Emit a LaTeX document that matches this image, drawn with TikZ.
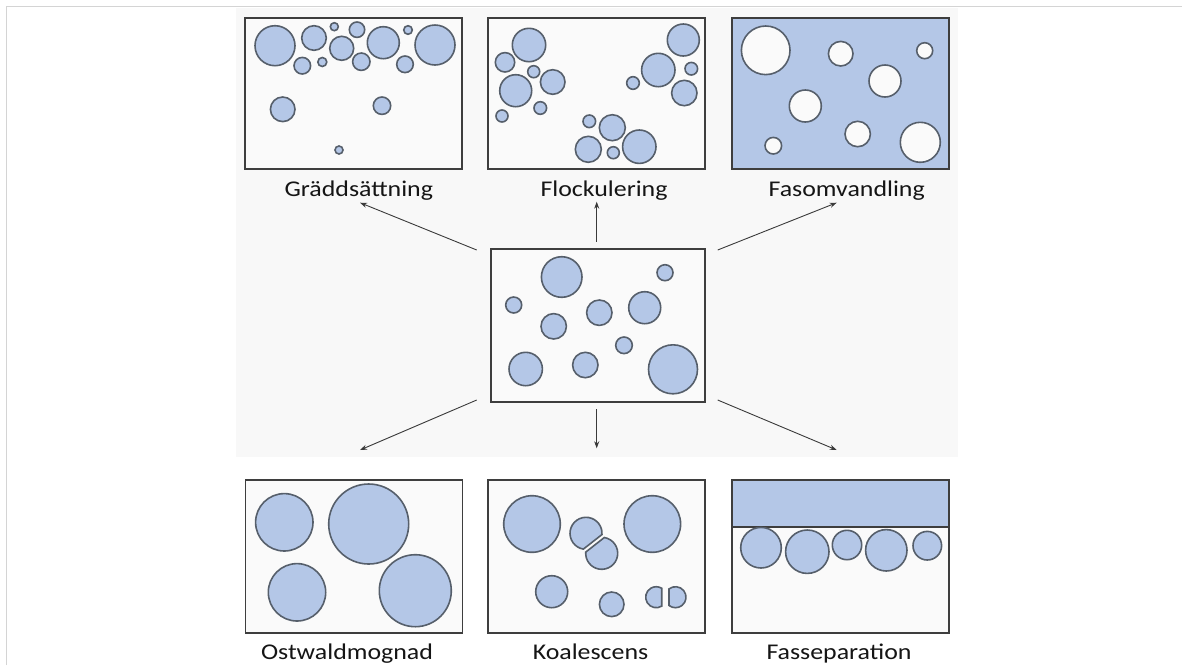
\documentclass[tikz,border=0pt]{standalone}
\usepackage{fontspec}
\usepackage{graphicx}
\setmainfont{Carlito}
\usetikzlibrary{arrows.meta}

\definecolor{dropfill}{HTML}{B4C7E7}
\definecolor{dropline}{HTML}{565F6B}
\definecolor{panelline}{HTML}{3E3E3E}
\definecolor{panelbg}{HTML}{FAFAFA}
\definecolor{arrowline}{HTML}{3A3A3A}
\definecolor{pageline}{HTML}{D4D4D4}
\definecolor{sheetbg}{HTML}{F8F8F8}
\definecolor{captext}{HTML}{151515}

\newcommand{\capword}[1]{\scalebox{1.15}[1]{#1}}

\begin{document}
\begin{tikzpicture}[x=1pt, y=1pt, yscale=-1, inner sep=0pt, outer sep=0pt,
  drop/.style={draw=dropline, fill=dropfill, line width=1.6pt},
  hole/.style={draw=dropline, fill=panelbg, line width=1.6pt},
  panel/.style={draw=panelline, fill=panelbg, line width=1.8pt,
    minimum width=217pt, minimum height=151pt},
  caption/.style={anchor=base, text=captext,
    font=\fontsize{22.5pt}{26pt}\selectfont},
  flow/.style={draw=arrowline, line width=0.9pt,
    -{Stealth[length=7pt,width=5pt]}}]
\useasboundingbox (0,0) rectangle (1182,665);
% page and sheet behind the figure
\path[fill=white] (0,0) rectangle (1182,665);
\path[draw=pageline, line width=1.5pt] (6.5,665) -- (6.5,6.5) -- (1182,6.5);
\path[fill=sheetbg] (236,8) rectangle (958,457);

% panels
\node[panel] (rect-gradd) at (353.5,93.5) {};
\node[panel] (rect-flock) at (596.5,93.5) {};
\node[panel, fill=dropfill] (rect-fasom) at (840.5,93.5) {};
\node[panel, minimum width=214pt, minimum height=153pt] (rect-mid) at (598,325.5) {};
\node[panel, minimum height=153pt] (rect-ostw) at (354,556.5) {};
\node[panel, minimum height=153pt] (rect-koal) at (596.5,556.5) {};
\node[panel, minimum height=153pt] (rect-fassep) at (840.5,556.5) {};

% Graddsattning
\path[drop] (275.0,45.7) circle[radius=20];
\path[drop] (314.0,38.0) circle[radius=12.3];
\path[drop] (334.3,26.7) circle[radius=4];
\path[drop] (341.7,48.3) circle[radius=12];
\path[drop] (357.0,29.7) circle[radius=7.7];
\path[drop] (383.3,42.7) circle[radius=16];
\path[drop] (408.0,30.0) circle[radius=4.3];
\path[drop] (435.0,45.0) circle[radius=20];
\path[drop] (302.3,65.7) circle[radius=8.3];
\path[drop] (322.3,62.0) circle[radius=4.5];
\path[drop] (361.3,61.7) circle[radius=8.7];
\path[drop] (405.0,64.3) circle[radius=8.3];
\path[drop] (282.7,109.3) circle[radius=12.3];
\path[drop] (382.0,105.7) circle[radius=8.7];
\path[drop] (339.0,150.0) circle[radius=4];

% Flockulering
\path[drop] (529.0,45.0) circle[radius=16.7];
\path[drop] (505.0,62.3) circle[radius=9.7];
\path[drop] (533.7,71.7) circle[radius=6];
\path[drop] (515.7,90.7) circle[radius=16];
\path[drop] (552.7,82.0) circle[radius=12.3];
\path[drop] (540.3,108.0) circle[radius=6.3];
\path[drop] (502.0,116.0) circle[radius=6];
\path[drop] (683.3,40.0) circle[radius=16];
\path[drop] (658.3,70.0) circle[radius=16.7];
\path[drop] (691.3,68.7) circle[radius=6.3];
\path[drop] (633.0,83.0) circle[radius=6.3];
\path[drop] (684.3,93.0) circle[radius=12.7];
\path[drop] (589.3,121.3) circle[radius=6.3];
\path[drop] (612.3,127.7) circle[radius=13];
\path[drop] (588.3,149.3) circle[radius=13];
\path[drop] (613.3,152.7) circle[radius=6];
\path[drop] (639.3,146.7) circle[radius=16.7];

% Fasomvandling
\path[hole] (765.7,50.3) circle[radius=24.3];
\path[hole] (840.7,53.7) circle[radius=12.3];
\path[hole] (924.7,50.7) circle[radius=8];
\path[hole] (885.0,81.0) circle[radius=16];
\path[hole] (805.3,106.0) circle[radius=16];
\path[hole] (773.3,145.7) circle[radius=8.3];
\path[hole] (857.7,134.0) circle[radius=12.7];
\path[hole] (920.3,142.3) circle[radius=20];

% starting emulsion
\path[drop] (561.7,277.0) circle[radius=20.3];
\path[drop] (665.0,272.7) circle[radius=8];
\path[drop] (513.7,305.0) circle[radius=8];
\path[drop] (599.3,312.7) circle[radius=12.7];
\path[drop] (644.7,307.7) circle[radius=16];
\path[drop] (553.7,326.3) circle[radius=12.7];
\path[drop] (624.0,345.3) circle[radius=8.3];
\path[drop] (525.7,369.0) circle[radius=16.7];
\path[drop] (585.3,365.0) circle[radius=12.7];
\path[drop] (673.0,369.3) circle[radius=24.5];

% Ostwaldmognad
\path[drop] (284.3,522.3) circle[radius=28.7];
\path[drop] (368.7,524.0) circle[radius=40];
\path[drop] (297.0,592.3) circle[radius=28.7];
\path[drop] (415.3,590.7) circle[radius=36];

% Koalescens
\path[drop] (532.0,524.0) circle[radius=28.3];
\path[drop] (652.3,524.0) circle[radius=28.3];
\path[drop] ([shift={(99.4:16)}]586,533.3)
  arc[start angle=99.4, end angle=364.4, radius=16] -- cycle;
\path[drop] ([shift={(279.4:16)}]601.7,553.3)
  arc[start angle=279.4, end angle=544.4, radius=16] -- cycle;
\path[drop] (551.7,591.7) circle[radius=16];
\path[drop] (611.7,604.3) circle[radius=12.3];
\path[drop] ([shift={(58.4:10.5)}]656.2,597.2)
  arc[start angle=58.4, end angle=301.6, radius=10.5] -- cycle;
\path[drop] ([shift={(231.8:10.5)}]675.5,597.2)
  arc[start angle=231.8, end angle=488.2, radius=10.5] -- cycle;

% Fasseparation
\path[draw=panelline, fill=dropfill, line width=1.8pt] (732,480) rectangle (949,527);
\path[drop] (761.0,547.7) circle[radius=20.3];
\path[drop] (807.3,551.7) circle[radius=21.7];
\path[drop] (847.0,545.0) circle[radius=14.7];
\path[drop] (886.3,550.3) circle[radius=20.7];
\path[drop] (927.3,545.7) circle[radius=14.3];

% captions
\node[caption] (text-gradd) at (358.8,196) {\capword{Gräddsättning}};
\node[caption] (text-flock) at (604.0,196) {\capword{Flockulering}};
\node[caption] (text-fasom) at (846.7,196) {\capword{Fasomvandling}};
\node[caption] (text-ostw) at (347.0,659) {\capword{Ostwaldmognad}};
\node[caption] (text-koal) at (590.5,659) {\capword{Koalescens}};
\node[caption] (text-fassep) at (839.0,659) {\capword{Fasseparation}};

% arrows out of the middle panel
\coordinate (from-nw) at (476.7,250);
\coordinate (to-nw) at (360.0,202.7);
\coordinate (from-n) at (596.7,241.7);
\coordinate (to-n) at (596.7,201.7);
\coordinate (from-ne) at (717.7,250);
\coordinate (to-ne) at (836.7,202.7);
\coordinate (from-sw) at (476.7,400);
\coordinate (to-sw) at (360.0,450);
\coordinate (from-s) at (596.7,409);
\coordinate (to-s) at (596.7,448.3);
\coordinate (from-se) at (717.7,400);
\coordinate (to-se) at (836.7,450);
\draw[flow] (from-nw) -- (to-nw);
\draw[flow] (from-n) -- (to-n);
\draw[flow] (from-ne) -- (to-ne);
\draw[flow] (from-sw) -- (to-sw);
\draw[flow] (from-s) -- (to-s);
\draw[flow] (from-se) -- (to-se);
\end{tikzpicture}
\end{document}
